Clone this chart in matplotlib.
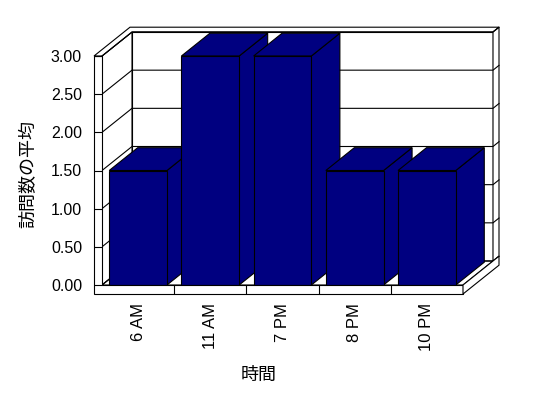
import matplotlib
matplotlib.use("Agg")
import matplotlib.pyplot as plt
from matplotlib.patches import Polygon

# Police : latin d'abord, puis CJK pour le japonais
plt.rcParams['font.family'] = ['Liberation Sans', 'Noto Sans CJK JP']

# Données du graphique
categories = ['6 AM', '11 AM', '7 PM', '8 PM', '10 PM']
visits_avg = [1.5, 3.0, 3.0, 1.5, 1.5]
y_ticks = [0.0, 0.5, 1.0, 1.5, 2.0, 2.5, 3.0]
x_label = '時間'
y_label = '訪問数の平均'

BAR_COLOR = '#000080'
W, H = 548, 398

fig = plt.figure(figsize=(W / 100, H / 100), dpi=100)
ax = fig.add_axes([102 / W, 1 - 285 / H, 361 / W, 229 / H])
n = len(categories)
ymax = y_ticks[-1]
ax.set_xlim(0, n)
ax.set_ylim(0, ymax)
ax.patch.set_visible(False)
for s in ax.spines.values():
    s.set_visible(False)

# Profondeur 3D exprimée en unités de données
ux = 361 / n      # px par catégorie
uy = 229 / ymax   # px par unité
DX, DY = 30 / ux, 24 / uy
WALL = 8 / ux
FLOOR = 9 / uy
BACK = 1.2


def P(x, y, d):
    return (x + d * DX, y + d * DY)


def face(pts, fc, z):
    ax.add_patch(Polygon(pts, closed=True, fc=fc, ec='black', lw=0.8,
                         zorder=z, clip_on=False, joinstyle='miter'))


# Murs du fond et de gauche, sol
face([P(0, 0, 1), P(n, 0, 1), P(n, ymax, 1), P(0, ymax, 1)], 'white', 1)
face([P(0, 0, 0), P(0, 0, 1), P(0, ymax, 1), P(0, ymax, 0)], 'white', 1)
face([P(0, 0, 0), P(n, 0, 0), P(n, 0, 1), P(0, 0, 1)], 'white', 1)
face([P(-WALL, ymax, 0), P(0, ymax, 0), P(0, ymax, 1), P(n, ymax, 1),
      P(n, ymax, BACK), P(-WALL, ymax, BACK)], 'white', 1)
face([P(n, 0, 1), P(n, ymax, 1), P(n, ymax, BACK), P(n, 0, BACK)], 'white', 1)

# Quadrillage
for t in y_ticks:
    pts = [P(0, t, 0), P(0, t, 1), P(n, t, 1), P(n, t, BACK)]
    ax.plot([p[0] for p in pts], [p[1] for p in pts], color='black',
            lw=0.8, zorder=1.5, clip_on=False)

# Barres (de gauche à droite)
db = 0.95
for i, v in enumerate(visits_avg):
    l, r = i + 0.1, i + 0.9
    z = 2 + 0.01 * i
    face([P(r, 0, 0), P(r, v, 0), P(r, v, db), P(r, 0, db)], BAR_COLOR, z)
    face([P(l, v, 0), P(r, v, 0), P(r, v, db), P(l, v, db)], BAR_COLOR, z)
    face([P(l, 0, 0), P(r, 0, 0), P(r, v, 0), P(l, v, 0)], BAR_COLOR, z)

# Faces avant du mur gauche et du sol
face([P(-WALL, ymax, 0), P(0, ymax, 0), P(0, 0, 0), P(n, 0, 0),
      P(n, -FLOOR, 0), P(-WALL, -FLOOR, 0)], 'white', 2.3)
face([P(n, 0, 0), P(n, 0, BACK), P(n, -FLOOR, BACK), P(n, -FLOOR, 0)],
     'white', 2.3)

# Axes
ax.set_yticks(y_ticks)
ax.set_yticklabels([f'{t:.2f}' for t in y_ticks])
ax.tick_params(axis='y', direction='out', length=5.8, width=0.8, pad=8.6,
               labelsize=11.5)
ax.set_xticks([i + 0.5 for i in range(n)])
ax.set_xticklabels(categories, rotation=90)
ax.set_xticks(range(1, n), minor=True)
ax.tick_params(axis='x', which='major', length=0, pad=13, labelsize=12)
ax.tick_params(axis='x', which='minor', direction='out', length=6.5, width=0.8)
ax.xaxis.set_zorder(5)
ax.yaxis.set_zorder(5)

fig.text(28.5 / W, 1 - 173.5 / H, y_label, rotation=90, ha='center',
         va='center', fontsize=13)
fig.text(259 / W, 1 - 375 / H, x_label, ha='center', va='center', fontsize=13)

fig.savefig('out.png', dpi=100)
